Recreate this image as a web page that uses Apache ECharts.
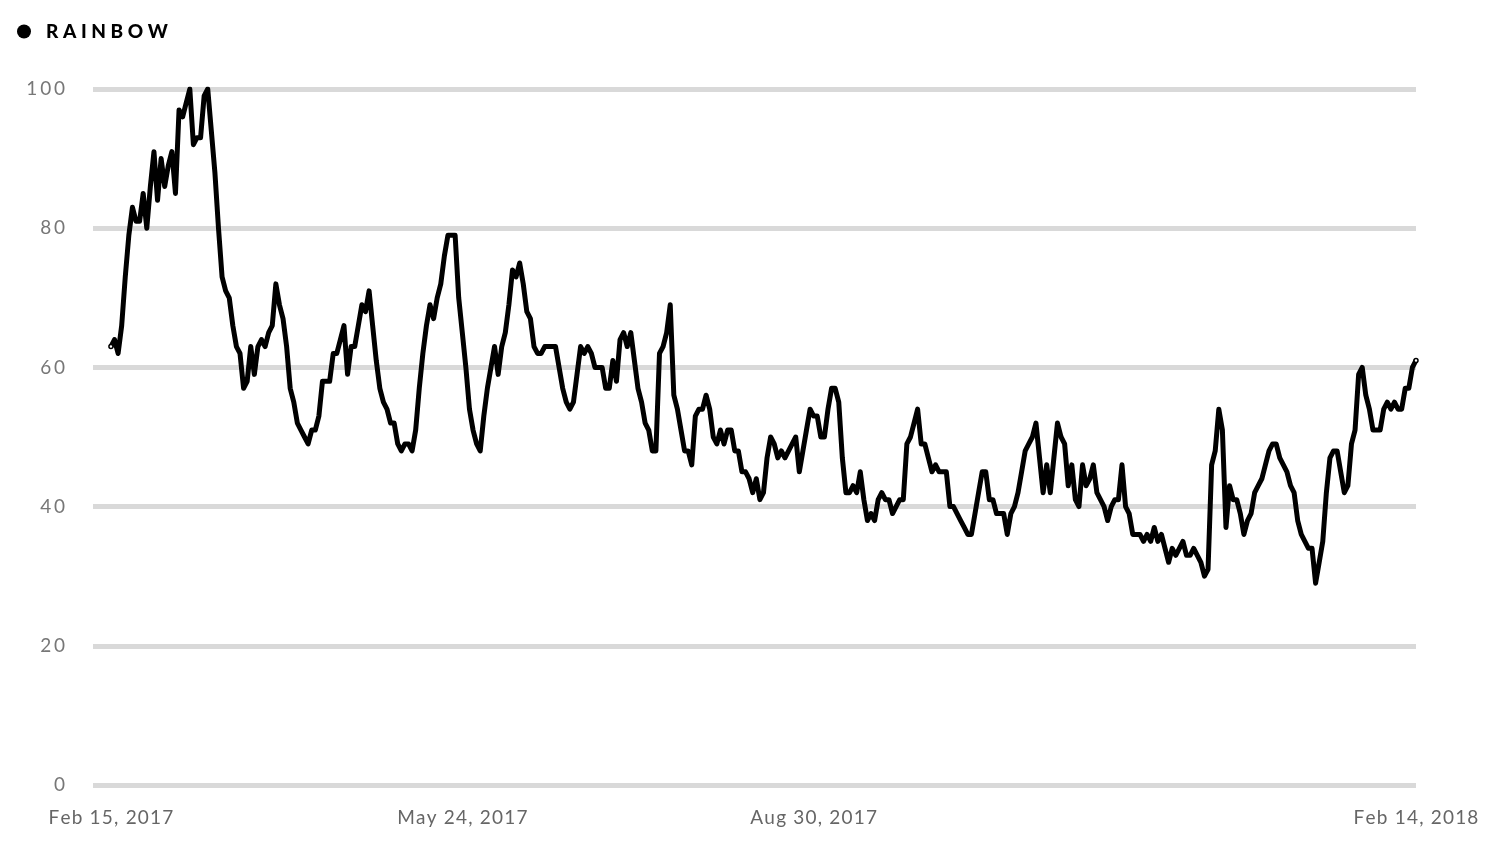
<!DOCTYPE html>
<html>
<head>
<meta charset="utf-8">
<script src="https://cdn.jsdelivr.net/npm/echarts@6/dist/echarts.min.js"></script>
<style>
html,body{margin:0;padding:0;background:#fff;}
#chart{width:1510px;height:864px;}
</style>
</head>
<body>
<div id="chart"></div>
<script>
const seriesName = 'RAINBOW';
const tickDayIndexes = [0, 98, 196, 364];
const tickLabels = ['Feb 15, 2017', 'May 24, 2017', 'Aug 30, 2017', 'Feb 14, 2018'];
const values = [
  63,64,62,66,73,79,83,81,81,85,
  80,86,91,84,90,86,89,91,85,97,
  96,98,100,92,93,93,99,100,94,88,
  80,73,71,70,66,63,62,57,58,63,
  59,63,64,63,65,66,72,69,67,63,
  57,55,52,51,50,49,51,51,53,58,
  58,58,62,62,64,66,59,63,63,66,
  69,68,71,66,61,57,55,54,52,52,
  49,48,49,49,48,51,57,62,66,69,
  67,70,72,76,79,79,79,70,65,60,
  54,51,49,48,53,57,60,63,59,63,
  65,69,74,73,75,72,68,67,63,62,
  62,63,63,63,63,60,57,55,54,55,
  59,63,62,63,62,60,60,60,57,57,
  61,58,64,65,63,65,61,57,55,52,
  51,48,48,62,63,65,69,56,54,51,
  48,48,46,53,54,54,56,54,50,49,
  51,49,51,51,48,48,45,45,44,42,
  44,41,42,47,50,49,47,48,47,48,
  49,50,45,48,51,54,53,53,50,50,
  54,57,57,55,47,42,42,43,42,45,
  41,38,39,38,41,42,41,41,39,40,
  41,41,49,50,52,54,49,49,47,45,
  46,45,45,45,40,40,39,38,37,36,
  36,39,42,45,45,41,41,39,39,39,
  36,39,40,42,45,48,49,50,52,47,
  42,46,42,47,52,50,49,43,46,41,
  40,46,43,44,46,42,41,40,38,40,
  41,41,46,40,39,36,36,36,35,36,
  35,37,35,36,34,32,34,33,34,35,
  33,33,34,33,32,30,31,46,48,54,
  51,37,43,41,41,39,36,38,39,42,
  43,44,46,48,49,49,47,46,45,43,
  42,38,36,35,34,34,29,32,35,42,
  47,48,48,45,42,43,49,51,59,60,
  56,54,51,51,51,54,55,54,55,54,
  54,57,57,60,61
];

const lastIdx = values.length - 1;
const seriesData = values.map(function (v, i) {
  if (i === 0 || i === lastIdx) {
    return { value: [i, v], symbol: 'circle', symbolSize: 4,
      itemStyle: { color: '#fff', borderColor: '#000', borderWidth: 1.5 } };
  }
  return { value: [i, v], symbol: 'none' };
});
const labelMap = {};
tickDayIndexes.forEach(function (d, k) { labelMap[d] = tickLabels[k]; });

// letter-spaced rich text: every char but the last uses style "s", last uses "e"
function spaced(text) {
  const chars = String(text).split('');
  return chars.map(function (c, i) {
    return '{' + (i === chars.length - 1 ? 'e' : 's') + '|' + c + '}';
  }).join('');
}
const labelFont = 'Lato, "Noto Sans", sans-serif';
function richSpacing(size, weight, color, sp) {
  const base = { fontFamily: labelFont, fontSize: size, fontWeight: weight, color: color };
  return {
    s: Object.assign({ padding: [0, sp, 0, 0] }, base),
    e: Object.assign({}, base)
  };
}

const chart = echarts.init(document.getElementById('chart'), null, { renderer: 'canvas' });
chart.setOption({
  animation: false,
  backgroundColor: '#ffffff',
  legend: {
    data: [seriesName],
    left: 12, top: 17,
    icon: 'circle',
    itemWidth: 14, itemHeight: 14,
    formatter: function (name) { return spaced(name); },
    textStyle: {
      fontFamily: labelFont, fontSize: 19, fontWeight: 900, color: '#000',
      padding: [0, 0, 0, 10],
      rich: richSpacing(19, 900, '#000', 4.6)
    },
    selectedMode: false
  },
  grid: { left: 93, right: 94, top: 89, bottom: 79, containLabel: false },
  xAxis: {
    type: 'value',
    min: -5, max: 364,
    axisLine: { show: false },
    axisTick: { show: false },
    splitLine: { show: false },
    axisLabel: {
      customValues: tickDayIndexes,
      formatter: function (v) { return labelMap[v] ? spaced(labelMap[v]) : ''; },
      color: '#666', fontFamily: labelFont, fontSize: 19, margin: 23,
      rich: richSpacing(19, 'normal', '#666', 1.2)
    }
  },
  yAxis: {
    type: 'value',
    min: 0, max: 100, interval: 20,
    axisLine: { show: false },
    axisTick: { show: false },
    axisLabel: {
      formatter: function (v) { return spaced(v); },
      color: '#777', fontFamily: labelFont, fontSize: 19, margin: 28,
      rich: richSpacing(19, 'normal', '#777', 2.8)
    },
    splitLine: { lineStyle: { color: '#d9d9d9', width: 5 } }
  },
  series: [{
    name: seriesName,
    type: 'line',
    data: seriesData,
    showSymbol: true,
    showAllSymbol: true,
    symbol: 'none',
    lineStyle: { color: '#000', width: 5, join: 'round' },
    itemStyle: { color: '#000' },
    z: 5
  }]
});
</script>
</body>
</html>
